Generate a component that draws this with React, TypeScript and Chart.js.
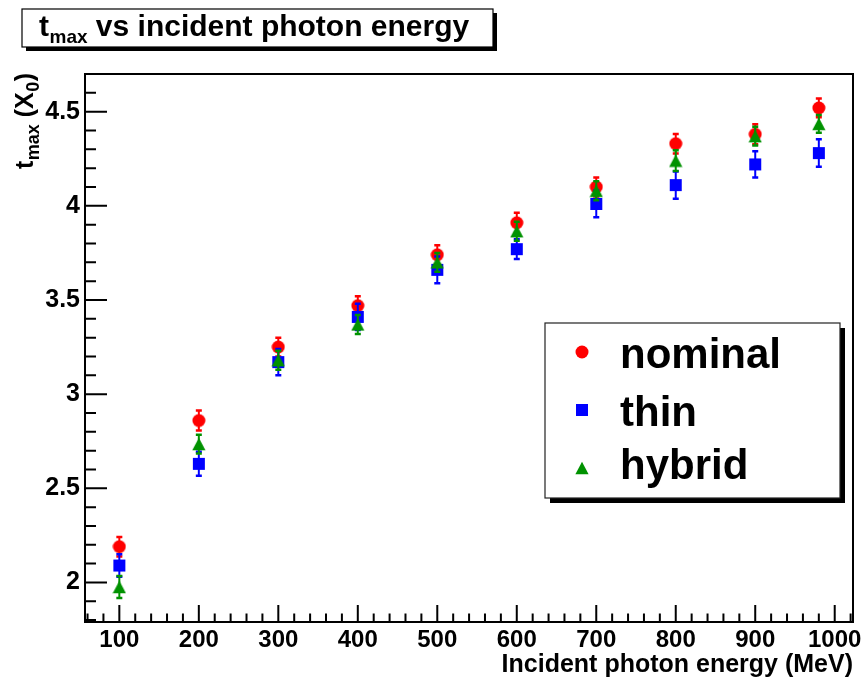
import React, { useEffect, useRef } from "react";
import { Chart, registerables } from "chart.js";

Chart.register(...registerables);

// ---- data ----
const energies = [100, 200, 300, 400, 500, 600, 700, 800, 900, 980];
const nominal = [2.19, 2.86, 3.25, 3.47, 3.74, 3.91, 4.1, 4.33, 4.38, 4.52];
const nominalErr = [0.052, 0.053, 0.05, 0.05, 0.05, 0.053, 0.05, 0.052, 0.053, 0.05];
const thin = [2.09, 2.63, 3.17, 3.41, 3.66, 3.77, 4.01, 4.11, 4.22, 4.28];
const thinErr = [0.06, 0.064, 0.07, 0.07, 0.071, 0.053, 0.071, 0.072, 0.07, 0.073];
const hybrid = [1.976, 2.735, 3.18, 3.37, 3.70, 3.865, 4.08, 4.24, 4.37, 4.435];
const hybridErr = [0.058, 0.05, 0.05, 0.05, 0.05, 0.05, 0.05, 0.055, 0.05, 0.047];

const seriesLabels = ["nominal", "thin", "hybrid"];
const seriesColors = ["#ff0000", "#0000ff", "#009200"];
const seriesShapes = ["circle", "square", "triangle"];

const xTicks = [100, 200, 300, 400, 500, 600, 700, 800, 900, 1000];
const yTicks = [2, 2.5, 3, 3.5, 4, 4.5];
const xRange = [56.8, 1023];
const yRange = [1.79, 4.7];
const xMinorStep = 20;
const yMinorStep = 0.1;

const titleMain = "t";
const titleSub = "max";
const titleRest = " vs incident photon energy";
const xTitle = "Incident photon energy (MeV)";

const FONT = '"Liberation Sans", Arial, Helvetica, sans-serif';

function makeMarker(shape: string, color: string): HTMLCanvasElement {
  const c = document.createElement("canvas");
  c.width = 14;
  c.height = 14;
  const ctx = c.getContext("2d")!;
  ctx.fillStyle = color;
  if (shape === "circle") {
    ctx.beginPath();
    ctx.arc(7, 7, 6.5, 0, Math.PI * 2);
    ctx.fill();
  } else if (shape === "square") {
    ctx.fillRect(1, 1, 12, 12);
  } else {
    ctx.beginPath();
    ctx.moveTo(7, 0.8);
    ctx.lineTo(13.6, 13.2);
    ctx.lineTo(0.4, 13.2);
    ctx.closePath();
    ctx.fill();
  }
  return c;
}

const errorBarPlugin = {
  id: "errorBars",
  beforeDatasetDraw(chart: any, args: any) {
    const ds = chart.data.datasets[args.index];
    const errs: number[] = ds.errors;
    if (!errs) return;
    const ctx = chart.ctx;
    const xs = chart.scales.x;
    const ys = chart.scales.y;
    ctx.save();
    ctx.strokeStyle = ds.errColor;
    ds.data.forEach((pt: any, i: number) => {
      const px = xs.getPixelForValue(pt.x);
      const yt = ys.getPixelForValue(pt.y + errs[i]);
      const yb = ys.getPixelForValue(pt.y - errs[i]);
      ctx.lineWidth = 2;
      ctx.beginPath();
      ctx.moveTo(px, yt);
      ctx.lineTo(px, yb);
      ctx.stroke();
      ctx.lineWidth = 2.5;
      ctx.beginPath();
      ctx.moveTo(px - 3, yt);
      ctx.lineTo(px + 3, yt);
      ctx.moveTo(px - 3, yb);
      ctx.lineTo(px + 3, yb);
      ctx.stroke();
    });
    ctx.restore();
  },
};

const framePlugin = {
  id: "rootFrame",
  beforeDatasetsDraw(chart: any) {
    const ctx = chart.ctx;
    const { left, right, top, bottom } = chart.chartArea;
    const xs = chart.scales.x;
    const ys = chart.scales.y;
    ctx.save();
    ctx.strokeStyle = "#000";
    ctx.lineWidth = 2;
    ctx.strokeRect(left, top, right - left, bottom - top);
    ctx.lineWidth = 2;
    ctx.beginPath();
    const yStart = Math.ceil(yRange[0] / yMinorStep - 1e-6);
    const yEnd = Math.floor(yRange[1] / yMinorStep + 1e-6);
    for (let k = yStart; k <= yEnd; k++) {
      const v = k * yMinorStep;
      const major = k % 5 === 0;
      const py = ys.getPixelForValue(v);
      ctx.moveTo(left, py);
      ctx.lineTo(left + (major ? 22 : 11), py);
    }
    const xStart = Math.ceil(xRange[0] / xMinorStep);
    const xEnd = Math.floor(xRange[1] / xMinorStep);
    for (let k = xStart; k <= xEnd; k++) {
      const v = k * xMinorStep;
      const major = v % 100 === 0;
      const px = xs.getPixelForValue(v);
      ctx.moveTo(px, bottom);
      ctx.lineTo(px, bottom - (major ? 17 : 8.5));
    }
    ctx.stroke();
    ctx.restore();
  },
};

const decorPlugin = {
  id: "decor",
  afterDraw(chart: any) {
    const ctx = chart.ctx;
    ctx.save();
    // title box
    const bx = 22, by = 9, bw = 471, bh = 38;
    ctx.fillStyle = "#000";
    ctx.fillRect(bx + 4, by + 4, bw, bh);
    ctx.fillStyle = "#fff";
    ctx.fillRect(bx, by, bw, bh);
    ctx.strokeStyle = "#000";
    ctx.lineWidth = 1.2;
    ctx.strokeRect(bx, by, bw, bh);
    ctx.fillStyle = "#000";
    ctx.textAlign = "left";
    ctx.textBaseline = "alphabetic";
    ctx.font = `bold 30px ${FONT}`;
    let tx = 39;
    ctx.fillText(titleMain, tx, 36);
    tx += ctx.measureText(titleMain).width + 0.5;
    ctx.font = `bold 19px ${FONT}`;
    ctx.fillText(titleSub, tx, 43);
    tx += ctx.measureText(titleSub).width;
    ctx.font = `bold 30px ${FONT}`;
    ctx.fillText(titleRest, tx, 36);

    // y-axis title (rotated) t_max (X_0)
    ctx.save();
    ctx.translate(33, 169);
    ctx.rotate(-Math.PI / 2);
    let yx = 0;
    ctx.font = `bold 25px ${FONT}`;
    ctx.fillText("t", yx, 0);
    yx += ctx.measureText("t").width + 0.5;
    ctx.font = `bold 18px ${FONT}`;
    ctx.fillText("max", yx, 6);
    yx += ctx.measureText("max").width;
    ctx.font = `bold 25px ${FONT}`;
    ctx.fillText(" (X", yx, 0);
    yx += ctx.measureText(" (X").width + 0.5;
    ctx.font = `bold 18px ${FONT}`;
    ctx.fillText("0", yx, 6);
    yx += ctx.measureText("0").width + 0.5;
    ctx.font = `bold 25px ${FONT}`;
    ctx.fillText(")", yx, 0);
    ctx.restore();

    // x-axis title
    ctx.font = `bold 25px ${FONT}`;
    ctx.textAlign = "right";
    ctx.fillText(xTitle, 853, 672);

    // legend
    const lx = 545, ly = 323, lw = 295, lh = 175;
    ctx.fillStyle = "#000";
    ctx.fillRect(lx + 5, ly + 5, lw, lh);
    ctx.fillStyle = "#fff";
    ctx.fillRect(lx, ly, lw, lh);
    ctx.strokeStyle = "#222";
    ctx.lineWidth = 1.2;
    ctx.strokeRect(lx, ly, lw, lh);
    const rows = [352, 410, 468];
    ctx.textAlign = "left";
    ctx.font = `bold 42px ${FONT}`;
    chart.data.datasets.forEach((ds: any, i: number) => {
      const ry = rows[i];
      const img = ds.pointStyle as HTMLCanvasElement;
      ctx.drawImage(img, 582 - img.width / 2, ry - img.height / 2);
      const m = ctx.measureText(ds.label);
      const base = ry + (m.actualBoundingBoxAscent - m.actualBoundingBoxDescent) / 2;
      ctx.fillStyle = "#000";
      ctx.fillText(ds.label, 620, base);
    });
    ctx.restore();
  },
};

export default function App() {
  const canvasRef = useRef<HTMLCanvasElement | null>(null);

  useEffect(() => {
    const canvas = canvasRef.current;
    if (!canvas) return;
    const values = [nominal, thin, hybrid];
    const errors = [nominalErr, thinErr, hybridErr];
    const datasets = values.map((vals, s) => ({
      label: seriesLabels[s],
      data: energies.map((x, i) => ({ x, y: vals[i] })),
      errors: errors[s],
      errColor: seriesColors[s],
      pointStyle: makeMarker(seriesShapes[s], seriesColors[s]),
      pointRadius: 6,
      backgroundColor: seriesColors[s],
      borderColor: seriesColors[s],
      showLine: false,
      order: 3 - s,
    }));
    const xTickFont = { family: FONT, size: 24, weight: "bold" as const };
    const yTickFont = { family: FONT, size: 25, weight: "bold" as const };
    const chart = new Chart(canvas, {
      type: "scatter",
      data: { datasets: datasets as any },
      options: {
        animation: false,
        responsive: false,
        events: [],
        layout: { padding: { left: 0, top: 74, right: 12, bottom: 0 } },
        plugins: {
          legend: { display: false },
          tooltip: { enabled: false },
          title: { display: false },
        },
        scales: {
          x: {
            type: "linear",
            min: xRange[0],
            max: xRange[1],
            grid: { display: false, drawTicks: false },
            border: { display: false },
            afterBuildTicks: (s: any) => {
              s.ticks = xTicks.map((v) => ({ value: v }));
            },
            afterFit: (s: any) => {
              s.height = 61;
              s.paddingLeft = 0;
              s.paddingRight = 0;
            },
            ticks: {
              padding: 4,
              color: "#000",
              font: xTickFont,
              maxRotation: 0,
              autoSkip: false,
              callback: (v: any) => String(v),
            },
          },
          y: {
            type: "linear",
            min: yRange[0],
            max: yRange[1],
            grid: { display: false, drawTicks: false },
            border: { display: false },
            afterBuildTicks: (s: any) => {
              s.ticks = yTicks.map((v) => ({ value: v }));
            },
            afterFit: (s: any) => {
              s.width = 85;
              s.paddingTop = 0;
              s.paddingBottom = 0;
            },
            ticks: {
              padding: 5,
              color: "#000",
              font: yTickFont,
              autoSkip: false,
              callback: (v: any) => String(v),
            },
          },
        },
      } as any,
      plugins: [framePlugin, errorBarPlugin, decorPlugin],
    });
    return () => chart.destroy();
  }, []);

  return (
    <div style={{ position: "absolute", left: 0, top: 0, width: 865, height: 683, background: "#fff" }}>
      <canvas ref={canvasRef} width={865} height={683} style={{ display: "block" }} />
    </div>
  );
}
